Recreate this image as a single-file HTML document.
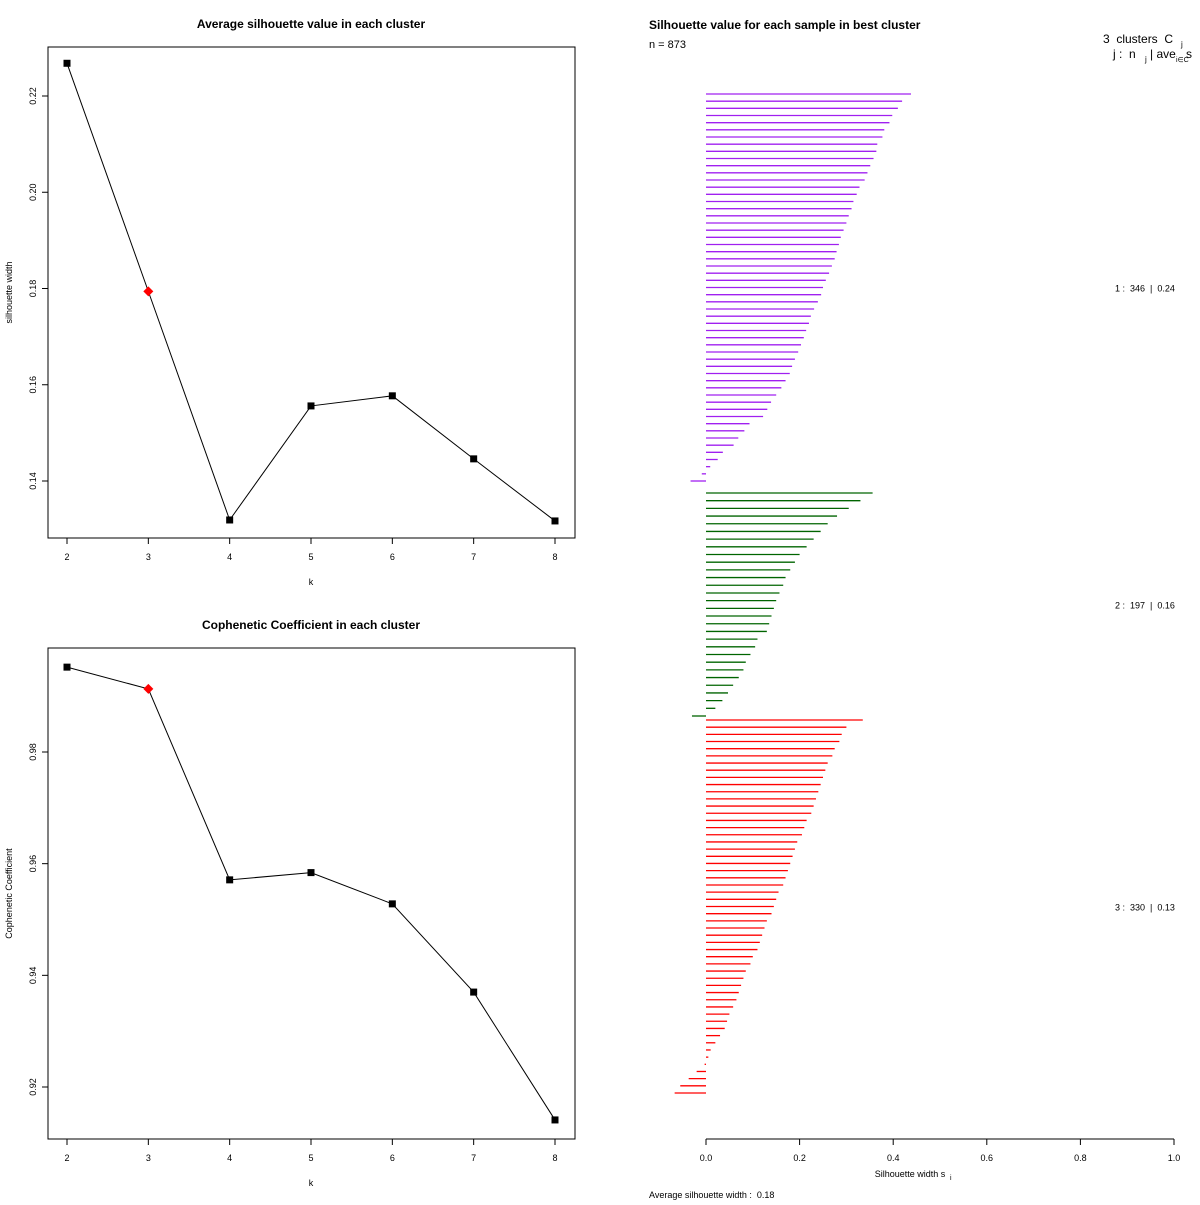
<!DOCTYPE html>
<html><head><meta charset="utf-8"><style>
body{margin:0;background:#fff;width:1200px;height:1200px;overflow:hidden}
svg text{font-family:"Liberation Sans",sans-serif;fill:#000;white-space:pre}
</style></head><body>
<svg id="s" width="1200" height="1200" xmlns="http://www.w3.org/2000/svg"></svg>
<script>
const kValues=[2,3,4,5,6,7,8];
const silWidth=[0.2268,0.1794,0.1319,0.1556,0.1577,0.1446,0.1317];
const cophCoef=[0.9952,0.9913,0.9571,0.9584,0.9528,0.9370,0.9141];
const bestIndex=1;
const silTicks=[0.14,0.16,0.18,0.20,0.22];
const cophTicks=[0.92,0.94,0.96,0.98];
const cluster1=[0.438,0.419,0.41,0.398,0.392,0.381,0.377,0.366,0.364,0.358,0.351,0.345,0.339,0.328,0.322,0.315,0.311,0.305,0.3,0.294,0.288,0.284,0.279,0.275,0.269,0.263,0.256,0.25,0.246,0.239,0.231,0.224,0.22,0.214,0.209,0.203,0.197,0.19,0.184,0.179,0.17,0.161,0.15,0.139,0.131,0.122,0.093,0.082,0.069,0.059,0.036,0.025,0.009,-0.009,-0.033];
const cluster2=[0.356,0.33,0.305,0.28,0.26,0.245,0.23,0.215,0.2,0.19,0.18,0.17,0.165,0.157,0.15,0.145,0.14,0.135,0.13,0.11,0.105,0.095,0.085,0.08,0.07,0.058,0.047,0.035,0.02,-0.03];
const cluster3=[0.335,0.3,0.29,0.285,0.275,0.27,0.26,0.255,0.25,0.245,0.24,0.235,0.23,0.225,0.215,0.21,0.205,0.195,0.19,0.185,0.18,0.175,0.17,0.165,0.155,0.15,0.145,0.14,0.13,0.125,0.12,0.115,0.11,0.1,0.095,0.085,0.08,0.075,0.07,0.065,0.058,0.05,0.045,0.04,0.03,0.02,0.01,0.005,-0.003,-0.02,-0.037,-0.055,-0.067];
const clusterLabels=["1 :  346  |  0.24","2 :  197  |  0.16","3 :  330  |  0.13"];
const silXTicks=[0,0.2,0.4,0.6,0.8,1.0];

const S=document.getElementById('s');const NS='http://www.w3.org/2000/svg';
function el(t,a,txt){const e=document.createElementNS(NS,t);for(const k in a)e.setAttribute(k,a[k]);if(txt!==undefined)e.textContent=txt;S.appendChild(e);return e;}

function panel(top,vals,ticks,y0v,y0p,y1v,y1p,title,ytitle,name){
  const L=48,R=575,T=top,B=top+491;
  const X=k=>67+(k-2)*(555-67)/6;
  const Y=v=>y0p+(v-y0v)*(y1p-y0p)/(y1v-y0v);
  let e=el('text',{x:311,y:T-19,'text-anchor':'middle','font-size':12,'font-weight':'bold'},title);
  
  e=el('rect',{x:L,y:T,width:R-L,height:B-T,fill:'none',stroke:'#000'});
  
  kValues.forEach(k=>{el('line',{x1:X(k),x2:X(k),y1:B,y2:B+6,stroke:'#000'});
    e=el('text',{x:X(k),y:B+22,'text-anchor':'middle','font-size':9},k);
    });
  ticks.forEach(t=>{const y=Y(t);el('line',{x1:L-6,x2:L,y1:y,y2:y,stroke:'#000'});
    e=el('text',{x:36,y:y,'text-anchor':'middle','font-size':9,transform:`rotate(-90 36 ${y})`},t.toFixed(2));
    });
  e=el('text',{x:311,y:B+47,'text-anchor':'middle','font-size':9},'k');
  
  const my=(T+B)/2;
  e=el('text',{x:12,y:my,'text-anchor':'middle','font-size':9,transform:`rotate(-90 12 ${my})`},ytitle);
  
  e=el('polyline',{points:vals.map((v,i)=>X(kValues[i])+','+Y(v)).join(' '),fill:'none',stroke:'#000'});
  
  vals.forEach((v,i)=>{const x=X(kValues[i]),y=Y(v);
    if(i===bestIndex){e=el('polygon',{points:`${x},${y-5} ${x+5},${y} ${x},${y+5} ${x-5},${y}`,fill:'#f00'});}
    else e=el('rect',{x:x-3.5,y:y-3.5,width:7,height:7,fill:'#000'});
    });
}
panel(47,silWidth,silTicks,0.22,96,0.14,481,'Average silhouette value in each cluster','silhouette width','silhouette');
panel(648,cophCoef,cophTicks,0.98,752,0.92,1087,'Cophenetic Coefficient in each cluster','Cophenetic Coefficient','cophenetic');

const SX=v=>706+v*468;
let e=el('text',{x:649,y:29,'font-size':12,'font-weight':'bold'},'Silhouette value for each sample in best cluster');

e=el('text',{x:649,y:48,'font-size':11},'n = 873');

e=el('text',{x:1103,y:43,'font-size':12},'3  clusters  C');

el('text',{x:1181,y:47,'font-size':8},'j');
e=el('text',{x:1113,y:58,'font-size':12},'j :  n');

el('text',{x:1145,y:62,'font-size':8},'j');
el('text',{x:1150,y:58,'font-size':12},'| ave');
el('text',{x:1176,y:62,'font-size':7},'i∈C');
el('text',{x:1186,y:58,'font-size':12},'s');
const groups=[[cluster1,94,481,'#a020f0'],[cluster2,493,716,'#006400'],[cluster3,720,1093,'#ff0000']];
groups.forEach((g,gi)=>{const [vals,y0,y1,c]=g;const st=(y1-y0)/(vals.length-1);
  vals.forEach((v,i)=>{const y=y0+i*st;
    const b=el('line',{x1:SX(0),x2:SX(v),y1:y,y2:y,stroke:c,'stroke-width':1.3});
    
    });
  const t=el('text',{x:1115,y:(y0+y1)/2+4,'font-size':9},clusterLabels[gi]);
  
});
el('line',{x1:SX(0),x2:SX(1),y1:1139,y2:1139,stroke:'#000'});
silXTicks.forEach(t=>{el('line',{x1:SX(t),x2:SX(t),y1:1139,y2:1145,stroke:'#000'});
  const l=el('text',{x:SX(t),y:1161,'text-anchor':'middle','font-size':9},t.toFixed(1));
  });
e=el('text',{x:910,y:1177,'text-anchor':'middle','font-size':9},'Silhouette width s');

el('text',{x:950,y:1180,'font-size':7},'i');
e=el('text',{x:649,y:1198,'font-size':9},'Average silhouette width :  0.18');

</script>
</body></html>
